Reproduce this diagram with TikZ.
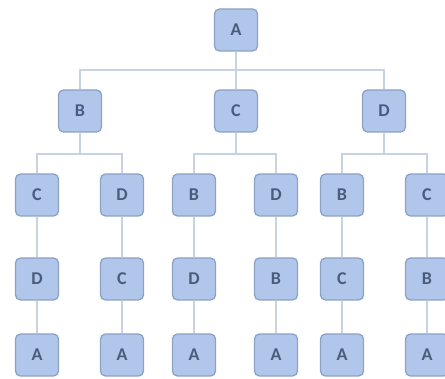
\documentclass[tikz,border=0pt]{standalone}
\usepackage{fontspec}
\setmainfont{Carlito}
\definecolor{boxfill}{HTML}{B0C6EA}
\definecolor{boxdraw}{HTML}{8CA2C4}
\definecolor{boxtext}{HTML}{4A5C7C}
\definecolor{edgecol}{HTML}{C6D3E5}
\begin{document}
\begin{tikzpicture}[x=1pt,y=-1pt,
  tnode/.style={draw=boxdraw,fill=boxfill,line width=1.3pt,rounded corners=5pt,
    minimum width=43pt,minimum height=42pt,inner sep=0pt,
    font=\fontsize{18}{18}\selectfont\bfseries,text=boxtext},
  edge/.style={draw=edgecol,line width=1.8pt}]
\useasboundingbox (0,0) rectangle (445,379);
\clip (0,0) rectangle (445,379);
% level 0
\node[tnode] (a) at (236,30) {A};
% level 1
\node[tnode] (b) at (80,111) {B};
\node[tnode] (c) at (236,111) {C};
\node[tnode] (d) at (384,111) {D};
% level 2
\node[tnode] (bc) at (37,195) {C};
\node[tnode] (bd) at (122,195) {D};
\node[tnode] (cb) at (194,195) {B};
\node[tnode] (cd) at (276,195) {D};
\node[tnode] (db) at (342,195) {B};
\node[tnode] (dc) at (427,195) {C};
% level 3
\node[tnode] (bcd) at (37,279) {D};
\node[tnode] (bdc) at (122,279) {C};
\node[tnode] (cbd) at (194,279) {D};
\node[tnode] (cdb) at (276,279) {B};
\node[tnode] (dbc) at (342,279) {C};
\node[tnode] (dcb) at (427,279) {B};
% level 4
\node[tnode] (bcda) at (37,355) {A};
\node[tnode] (bdca) at (122,355) {A};
\node[tnode] (cbda) at (194,355) {A};
\node[tnode] (cdba) at (276,355) {A};
\node[tnode] (dbca) at (342,355) {A};
\node[tnode] (dcba) at (427,355) {A};
% edges
\foreach \ch in {b,c,d} \draw[edge] (a.south) -- ++(0,18) -| (\ch.north);
\foreach \p/\ch in {b/bc,b/bd,c/cb,c/cd,d/db,d/dc} \draw[edge] (\p.south) -- ++(0,21) -| (\ch.north);
\foreach \u/\v in {bc/bcd,bd/bdc,cb/cbd,cd/cdb,db/dbc,dc/dcb,bcd/bcda,bdc/bdca,cbd/cbda,cdb/cdba,dbc/dbca,dcb/dcba}
  \draw[edge] (\u.south) -- (\v.north);
\end{tikzpicture}
\end{document}
